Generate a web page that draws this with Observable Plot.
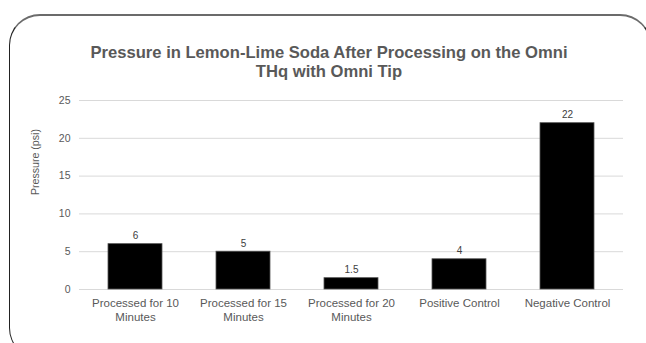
<!DOCTYPE html>
<html>
<head>
<meta charset="utf-8">
<script src="https://cdn.jsdelivr.net/npm/d3@7"></script>
<script src="https://cdn.jsdelivr.net/npm/@observablehq/plot@0.6"></script>
<style>
  html, body { margin: 0; padding: 0; background: #fff; }
  #wrap { position: relative; width: 646px; height: 343px; overflow: hidden; font-family: "Liberation Sans", Arial, sans-serif; }
  #frame {
    position: absolute; left: 9px; top: 14px; width: 642px; height: 345px;
    border: 1px solid #222; border-top: 2px solid #6b6b6b;
    border-radius: 31px; box-sizing: border-box;
  }
  #title {
    position: absolute; left: 0; top: 43px; width: 658px; text-align: center;
    font-weight: bold; font-size: 16.6px; line-height: 19px; color: #595959;
  }
  #chart { position: absolute; left: 0; top: 0; }
</style>
</head>
<body>
<div id="wrap">
  <div id="frame"></div>
  <div id="chart"></div>
  <div id="title">Pressure in Lemon-Lime Soda After Processing on the Omni<br>THq with Omni Tip</div>
</div>
<script>
// Samples and their measured pressure (psi)
const categories = [
  "Processed for 10 Minutes",
  "Processed for 15 Minutes",
  "Processed for 20 Minutes",
  "Positive Control",
  "Negative Control"
];
const pressure = [6, 5, 1.5, 4, 22];
const yTicks = [0, 5, 10, 15, 20, 25];
const yLabel = "Pressure (psi)";

// Two-line tick labels for the category axis
const tickLabels = {
  "Processed for 10 Minutes": "Processed for 10\nMinutes",
  "Processed for 15 Minutes": "Processed for 15\nMinutes",
  "Processed for 20 Minutes": "Processed for 20\nMinutes",
  "Positive Control": "Positive Control",
  "Negative Control": "Negative Control"
};

const data = categories.map((c, i) => ({category: c, value: pressure[i]}));

const chart = Plot.plot({
  width: 646,
  height: 343,
  marginLeft: 79,
  marginRight: 23,
  marginTop: 100,
  marginBottom: 54,
  style: {fontFamily: "'Liberation Sans', Arial, sans-serif", fontSize: "10.5px", background: "transparent"},
  x: {domain: categories, paddingInner: 0.5, paddingOuter: 0.25},
  y: {domain: [0, 25]},
  marks: [
    Plot.ruleY(yTicks, {stroke: "#d9d9d9", strokeWidth: 1}),
    Plot.barY(data, {x: "category", y: "value", fill: "#000", stroke: "#555", strokeWidth: 0.8}),
    Plot.text(data, {
      x: "category", y: "value", text: d => String(d.value),
      lineAnchor: "bottom", dy: -5, fontSize: 10, fill: "#404040"
    }),
    Plot.axisY({
      ticks: yTicks, tickSize: 0, tickPadding: 9, fontSize: 10.5, fill: "#595959", label: null
    }),
    Plot.text([yLabel], {
      frameAnchor: "left", rotate: -90, dx: -44, fontSize: 10.6, fill: "#595959"
    }),
    Plot.axisX({
      tickSize: 0, tickPadding: 8, fontSize: 11.5, lineHeight: 1.22, fill: "#595959",
      tickFormat: d => tickLabels[d], label: null
    })
  ]
});
document.getElementById("chart").appendChild(chart);
</script>
</body>
</html>
